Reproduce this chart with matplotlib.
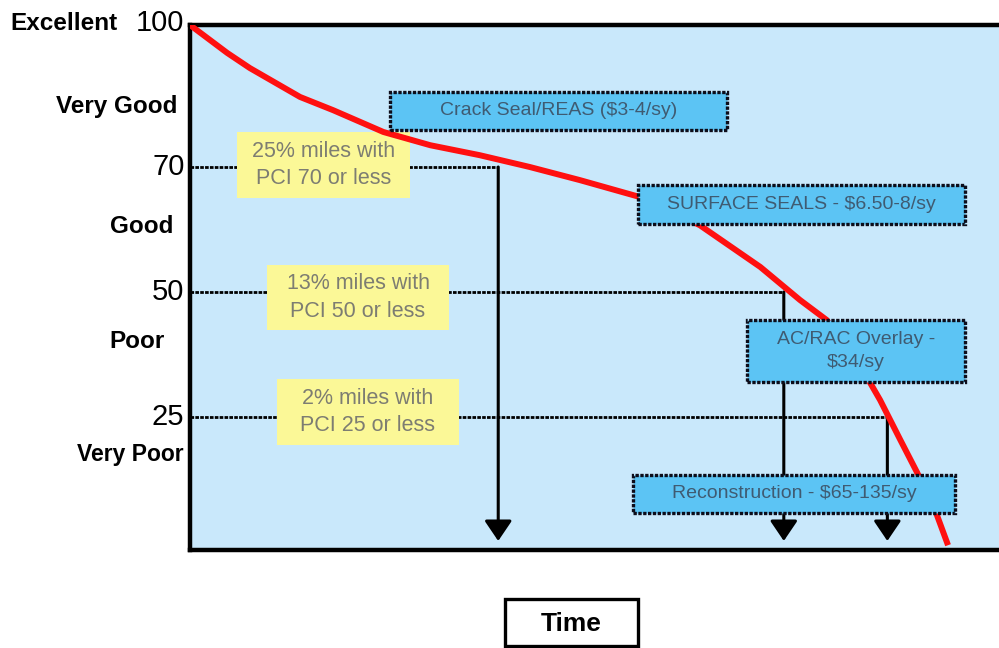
import numpy as np
import matplotlib
matplotlib.use("Agg")
import matplotlib.pyplot as plt
from matplotlib.patches import Rectangle
from matplotlib.transforms import blended_transform_factory, ScaledTranslation

plt.rcParams['font.family'] = ['Liberation Sans', 'DejaVu Sans']

# Pavement deterioration curve (time in arbitrary units, PCI 0-100)
time = [0, 4.6, 7.4, 13.6, 17.7, 23.9, 29.7, 35.8, 42.0, 48.2, 55.6, 63.0,
        70.5, 75.4, 78.7, 82.8, 85.3, 87.8, 89.9, 92.1, 93.7]
pci = [100, 94.1, 90.9, 84.8, 82.0, 77.4, 74.6, 72.5, 70.0, 67.9, 65.2, 60.7,
       54.0, 48.4, 44.4, 35.4, 28.4, 20.7, 14.5, 7.5, 0.9]

# PCI thresholds, the time each is reached, and network share below it
levels = [70, 50, 25]
trigger_time = [38.1, 73.4, 86.2]
level_notes = ["25% miles with\nPCI 70 or less",
               "13% miles with\nPCI 50 or less",
               "2% miles with\nPCI 25 or less"]
arrow_end = 1.7

tick_values = [100, 70, 50, 25]
tick_labels = ["100", "70", "50", "25"]
conditions = ["Excellent", "Very Good", "Good", "Poor", "Very Poor"]
condition_pci = [100, 83, 60.7, 40.4, 18.4]

treatments = ["Crack Seal/REAS ($3-4/sy)",
              "SURFACE SEALS - $6.50-8/sy",
              "AC/RAC Overlay -\n$34/sy",
              "Reconstruction - $65-135/sy"]

# Piecewise-linear vertical scale for the condition bands
scale_pci = [0, 25, 50, 70, 100]
scale_pos = [0, 133, 258, 383, 525]


def fwd(v):
    return np.interp(v, scale_pci, scale_pos)


def inv(p):
    return np.interp(p, scale_pos, scale_pci)


W, H = 999, 648
fig = plt.figure(figsize=(W / 100, H / 100), dpi=100)
ax = fig.add_axes([190 / W, 98 / H, 809 / W, 525 / H])
ax.set_yscale('function', functions=(fwd, inv))
ax.set_xlim(0, 100)
ax.set_ylim(0, 100)
ax.set_facecolor('#c9e8fb')
for side in ['top', 'left', 'bottom']:
    ax.spines[side].set_linewidth(3.2)
    ax.spines[side].set_color('black')
ax.spines['right'].set_visible(False)
ax.set_xticks([])
ax.set_yticks(tick_values)
ax.set_yticklabels(tick_labels, fontsize=21)
ax.tick_params(axis='y', length=0, pad=4)
ax.yaxis.set_minor_locator(matplotlib.ticker.NullLocator())
lift = ScaledTranslation(0, 3 / 100, fig.dpi_scale_trans)
for i, lbl in enumerate(ax.get_yticklabels()):
    extra = ScaledTranslation(0, 2 / 100, fig.dpi_scale_trans) if i == 0 else \
        ScaledTranslation(0, 0, fig.dpi_scale_trans)
    lbl.set_transform(lbl.get_transform() + lift + extra)

# Condition band names to the left of the axis
lab_tr = blended_transform_factory(fig.transFigure, ax.transData)
cond_x = [118, 177, 173, 165, 184]
cond_size = [17.5, 17.5, 17.5, 17.5, 16.5]
cond_dy = [2, -1, -1, -1, -2]
for name, yv, xp, fs, dy in zip(conditions, condition_pci, cond_x, cond_size, cond_dy):
    tr = lab_tr + ScaledTranslation(0, dy / 100, fig.dpi_scale_trans)
    ax.text(xp / W, yv, name, transform=tr, ha='right', va='center',
            fontsize=fs, fontweight='bold', clip_on=False)

# Threshold lines with arrows down to the treatment
for lev, tt in zip(levels, trigger_time):
    ax.plot([0, tt], [lev, lev], color='black', lw=2,
            linestyle=(0, (1.3, 0.45)), zorder=2)
    ax.annotate('', xy=(tt, arrow_end), xytext=(tt, lev),
                arrowprops=dict(arrowstyle='-|>,head_length=0.62,head_width=0.42',
                                mutation_scale=20, lw=2.2, color='black',
                                shrinkA=0, shrinkB=0), zorder=2)

# Share-of-network notes (axes fraction boxes)
note_boxes = [(0.0581, 0.6705, 0.2138, 0.1257),
              (0.0952, 0.4190, 0.2250, 0.1238),
              (0.1075, 0.2000, 0.2250, 0.1257)]
for (x0, y0, w, h), txt in zip(note_boxes, level_notes):
    ax.add_patch(Rectangle((x0, y0), w, h, transform=ax.transAxes,
                           facecolor='#fbf897', edgecolor='none', zorder=3))
    ax.text(x0 + w / 2, y0 + h / 2, txt, transform=ax.transAxes,
            ha='center', va='center', fontsize=15.5, color='#7d7d72',
            linespacing=1.4, zorder=4)

# Deterioration curve
ax.plot(time, pci, color='#ff1010', lw=4.3, solid_capstyle='butt',
        solid_joinstyle='round', zorder=5)

# Treatment boxes
treat_boxes = [(0.2470, 0.8000, 0.4165, 0.0724),
               (0.5538, 0.6210, 0.4042, 0.0743),
               (0.6885, 0.3200, 0.2695, 0.1181),
               (0.5476, 0.0705, 0.3980, 0.0724)]
for (x0, y0, w, h), txt in zip(treat_boxes, treatments):
    ax.add_patch(Rectangle((x0, y0), w, h, transform=ax.transAxes,
                           facecolor='#5cc4f4', edgecolor='#0d0d1a', lw=2.4,
                           linestyle=(0, (1.0, 0.45)), zorder=6))
    ax.text(x0 + w / 2, y0 + h / 2, txt, transform=ax.transAxes,
            ha='center', va='center', fontsize=14, color='#3f5b72',
            linespacing=1.5, zorder=7)

# Horizontal axis label in a framed box
fig.patches.append(Rectangle((505 / W, 2 / H), 133 / W, 47 / H,
                             transform=fig.transFigure, facecolor='white',
                             edgecolor='black', lw=2.4))
fig.text(571 / W, 1 - 624 / H, "Time", ha='center', va='center',
         fontsize=19, fontweight='bold')

fig.savefig('out.png', dpi=100, facecolor='white')
